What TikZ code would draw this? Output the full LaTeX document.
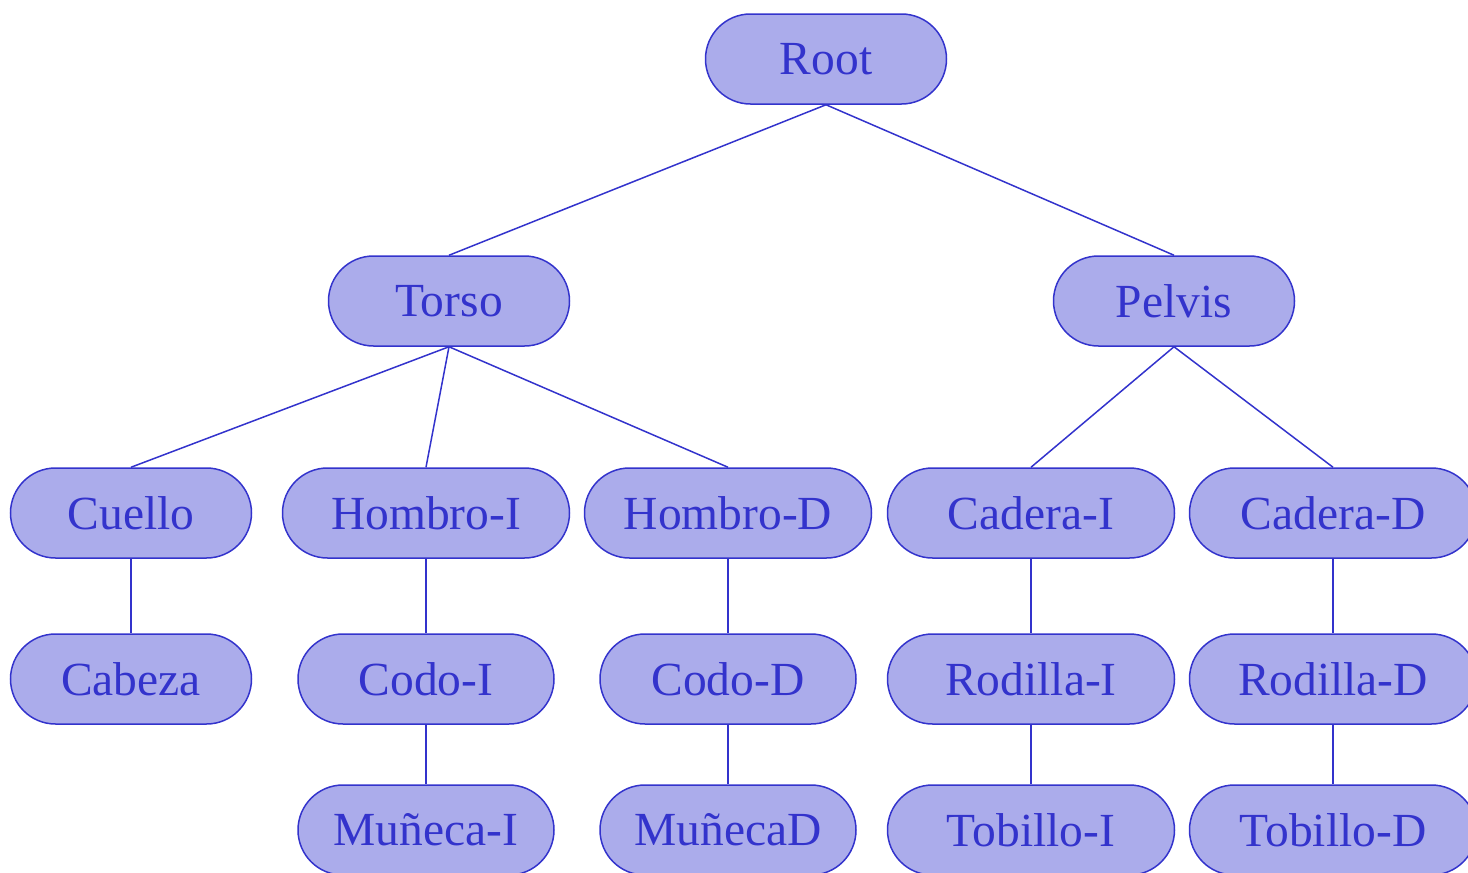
\documentclass[tikz,border=0pt]{standalone}
\usepackage{fontspec}
\setmainfont{Liberation Serif}
\definecolor{nfill}{HTML}{ABACEB}
\definecolor{nline}{HTML}{3333CC}
\tikzset{
  bone/.style={draw=nline, fill=nfill, text=nline, line width=1.5pt,
    rounded corners=45pt, minimum height=90pt, inner sep=0pt,
    font=\fontsize{47.5}{57}\selectfont},
  w1/.style={minimum width=241pt},
  w2/.style={minimum width=256pt},
  w3/.style={minimum width=287pt},
  link/.style={draw=nline, line width=1.5pt}
}
\begin{document}
\begin{tikzpicture}[x=1pt,y=-1pt]
\useasboundingbox (0,0) rectangle (1468,873);
\clip (0,0) rectangle (1468,873);
\node[bone,w1] (root) at (826,59) {Root};
\node[bone,w1] (torso) at (449,301) {Torso};
\node[bone,w1] (pelvis) at (1174,301) {Pelvis};
\node[bone,w1] (cuello) at (131,513) {Cuello};
\node[bone,w3] (hombroi) at (426,513) {Hombro-I};
\node[bone,w3] (hombrod) at (728,513) {Hombro-D};
\node[bone,w3] (caderai) at (1031,513) {Cadera-I};
\node[bone,w3] (caderad) at (1333,513) {Cadera-D};
\node[bone,w1] (cabeza) at (131,679) {Cabeza};
\node[bone,w2] (codoi) at (426,679) {Codo-I};
\node[bone,w2] (codod) at (728,679) {Codo-D};
\node[bone,w3] (rodillai) at (1031,679) {Rodilla-I};
\node[bone,w3] (rodillad) at (1333,679) {Rodilla-D};
\node[bone,w2] (munecai) at (426,830) {Muñeca-I};
\node[bone,w2] (munecad) at (728,830) {MuñecaD};
\node[bone,w3] (tobilloi) at (1031,830) {Tobillo-I};
\node[bone,w3] (tobillod) at (1333,830) {Tobillo-D};
\draw[link] (root.south) -- (torso.north);
\draw[link] (root.south) -- (pelvis.north);
\draw[link] (torso.south) -- (cuello.north);
\draw[link] (torso.south) -- (hombroi.north);
\draw[link] (torso.south) -- (hombrod.north);
\draw[link] (pelvis.south) -- (caderai.north);
\draw[link] (pelvis.south) -- (caderad.north);
\draw[link] (cuello.south) -- (cabeza.north);
\draw[link] (hombroi.south) -- (codoi.north);
\draw[link] (hombrod.south) -- (codod.north);
\draw[link] (caderai.south) -- (rodillai.north);
\draw[link] (caderad.south) -- (rodillad.north);
\draw[link] (codoi.south) -- (munecai.north);
\draw[link] (codod.south) -- (munecad.north);
\draw[link] (rodillai.south) -- (tobilloi.north);
\draw[link] (rodillad.south) -- (tobillod.north);
\end{tikzpicture}
\end{document}
